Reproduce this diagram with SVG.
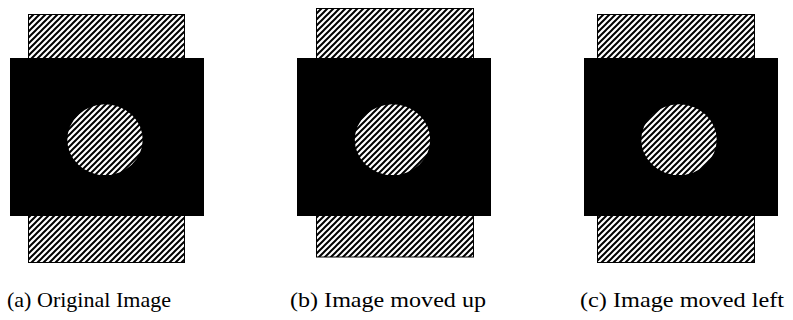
<svg xmlns="http://www.w3.org/2000/svg" width="793" height="320" viewBox="0 0 793 320">
<defs>
<pattern id="hatch" patternUnits="userSpaceOnUse" width="6" height="6">
<rect width="6" height="6" fill="#fff"/>
<path d="M0,6 L6,0 M-1,1 L1,-1 M5,7 L7,5" stroke="#000" stroke-width="2"/>
</pattern>
</defs>
<style>
.hr{fill:url(#hatch);stroke:#000;stroke-width:1}
.bk{fill:#000}
.ci{fill:url(#hatch)}
.cap{font-family:"Liberation Serif","DejaVu Serif",serif;font-size:22px;fill:#000}
</style>
<g id="panel-a">
<rect class="hr" x="28.5" y="14.5" width="156" height="248"/>
<rect class="bk" x="10" y="58" width="194" height="158"/>
<ellipse class="ci" cx="105" cy="139.7" rx="37.7" ry="35.4"/>
<text class="cap" x="7" y="307" textLength="164" lengthAdjust="spacingAndGlyphs">(a) Original Image</text>
</g>
<g id="panel-b">
<rect class="hr" x="316.5" y="8.5" width="157" height="248.5"/>
<rect class="bk" x="297" y="58" width="194" height="158"/>
<ellipse class="ci" cx="392.5" cy="139.7" rx="37.7" ry="35.4"/>
<text class="cap" x="290" y="307" textLength="196" lengthAdjust="spacingAndGlyphs">(b) Image moved up</text>
</g>
<g id="panel-c">
<rect class="hr" x="597.5" y="14.5" width="157" height="248"/>
<rect class="bk" x="584" y="58" width="194" height="158"/>
<ellipse class="ci" cx="679" cy="139.7" rx="37.7" ry="35.4"/>
<text class="cap" x="580" y="307" textLength="204" lengthAdjust="spacingAndGlyphs">(c) Image moved left</text>
</g>
<g id="connectors"></g>
</svg>
